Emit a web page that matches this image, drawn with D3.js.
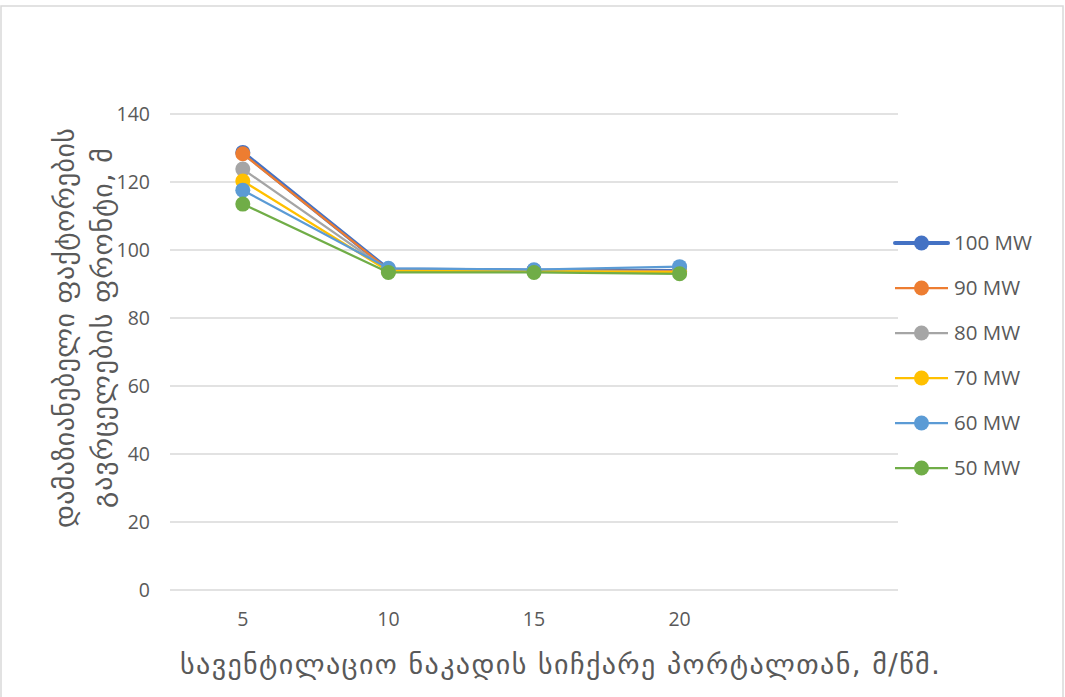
<!DOCTYPE html>
<html>
<head>
<meta charset="utf-8">
<script src="https://cdn.jsdelivr.net/npm/d3@7"></script>
<style>
  html, body { margin: 0; padding: 0; background: #fff; }
  svg { display: block; }
</style>
</head>
<body>
<div id="chart"></div>
<script>
// Ventilation airflow speed at the portal (m/s) – the fifth slot is empty
const categories = ["5", "10", "15", "20", ""];
const seriesNames = ["100 MW", "90 MW", "80 MW", "70 MW", "60 MW", "50 MW"];
const seriesColors = ["#4472C4", "#ED7D31", "#A5A5A5", "#FFC000", "#5B9BD5", "#70AD47"];
const v100 = [128.7, 94.3, 94.0, 93.8];
const v90  = [128.3, 94.2, 94.0, 93.8];
const v80  = [123.8, 94.0, 93.9, 93.6];
const v70  = [120.3, 93.8, 93.8, 93.5];
const v60  = [117.6, 94.6, 94.2, 95.1];
const v50  = [113.5, 93.4, 93.4, 93.0];
const yTicks = [0, 20, 40, 60, 80, 100, 120, 140];
const yTitleLines = ["დამაზიანებელი ფაქტორების", "გავრცელების ფრონტი, მ"];
const xTitle = "სავენტილაციო ნაკადის სიჩქარე პორტალთან, მ/წმ.";

const seriesValues = [v100, v90, v80, v70, v60, v50];
const series = seriesNames.map((name, i) => ({
  name, color: seriesColors[i], values: seriesValues[i],
  width: i === 0 ? 4 : 2.25
}));

const W = 1065, H = 697;
const plot = { left: 170, right: 898, top: 114, bottom: 590 };

const svg = d3.select("#chart").append("svg")
  .attr("width", W).attr("height", H);

// chart frame
svg.append("rect")
  .attr("x", 1).attr("y", 6).attr("width", W - 3).attr("height", H + 10)
  .attr("fill", "#fff").attr("stroke", "#d9d9d9").attr("stroke-width", 1.5);

const x = d3.scaleBand().domain(categories).range([plot.left, plot.right]);
const y = d3.scaleLinear().domain([0, 140]).range([plot.bottom, plot.top]);

const numFont = "'Open Sans', 'Noto Sans', sans-serif";
const geoFont = "'DejaVu Sans', sans-serif";

// horizontal gridlines
svg.append("g").selectAll("line").data(yTicks).join("line")
  .attr("x1", plot.left).attr("x2", plot.right)
  .attr("y1", d => y(d)).attr("y2", d => y(d))
  .attr("stroke", "#d9d9d9").attr("stroke-width", 1.3);

// y axis labels
const yAxis = svg.append("g")
  .attr("transform", `translate(${plot.left - 20},0)`)
  .call(d3.axisLeft(y).tickValues(yTicks).tickSize(0).tickPadding(0));
yAxis.select(".domain").remove();
yAxis.selectAll("text")
  .attr("font-family", numFont).attr("font-size", 19.5).attr("fill", "#595959");

// x axis labels
const xAxis = svg.append("g")
  .attr("transform", `translate(0,${plot.bottom + 18})`)
  .call(d3.axisBottom(x).tickSize(0).tickPadding(0));
xAxis.select(".domain").remove();
xAxis.selectAll("text")
  .attr("font-family", numFont).attr("font-size", 19.5).attr("fill", "#595959")
  .attr("dy", "0.9em");

// series lines and markers
const cx = (d, i) => x(categories[i]) + x.bandwidth() / 2;
const line = d3.line().x(cx).y(d => y(d));

const gSeries = svg.append("g");
series.forEach(s => {
  const g = gSeries.append("g");
  g.append("path")
    .attr("d", line(s.values))
    .attr("fill", "none").attr("stroke", s.color)
    .attr("stroke-width", s.width).attr("stroke-linejoin", "round");
  g.selectAll("circle").data(s.values).join("circle")
    .attr("cx", cx).attr("cy", d => y(d)).attr("r", 7.5)
    .attr("fill", s.color);
});

// legend
const legend = svg.append("g");
series.forEach((s, i) => {
  const ly = 243 + i * 45;
  legend.append("line")
    .attr("x1", 895).attr("x2", 948).attr("y1", ly).attr("y2", ly)
    .attr("stroke", s.color).attr("stroke-width", s.width)
    .attr("stroke-linecap", i === 0 ? "round" : "butt");
  legend.append("circle").attr("cx", 921.5).attr("cy", ly).attr("r", 7.5)
    .attr("fill", s.color);
  legend.append("text")
    .attr("x", 954).attr("y", ly).attr("dy", "0.36em")
    .attr("font-family", numFont).attr("font-size", 20.5).attr("fill", "#595959")
    .text(s.name);
});

// y axis title (two lines, rotated)
const yTitleLen = [400, 360];
const yTitle = svg.append("text")
  .attr("transform", "translate(64,328) rotate(-90)")
  .attr("text-anchor", "middle")
  .attr("font-family", geoFont).attr("font-size", 28).attr("fill", "#595959");
yTitleLines.forEach((t, i) => {
  yTitle.append("tspan").attr("x", 0).attr("y", i * 38).attr("dy", "0.35em")
    .attr("textLength", yTitleLen[i]).attr("lengthAdjust", "spacing")
    .text(t);
});

// x axis title
svg.append("text")
  .attr("x", 560).attr("y", 664).attr("dy", "0.35em")
  .attr("text-anchor", "middle")
  .attr("font-family", geoFont).attr("font-size", 28).attr("fill", "#595959")
  .attr("textLength", 760).attr("lengthAdjust", "spacing")
  .text(xTitle);
</script>
</body>
</html>
